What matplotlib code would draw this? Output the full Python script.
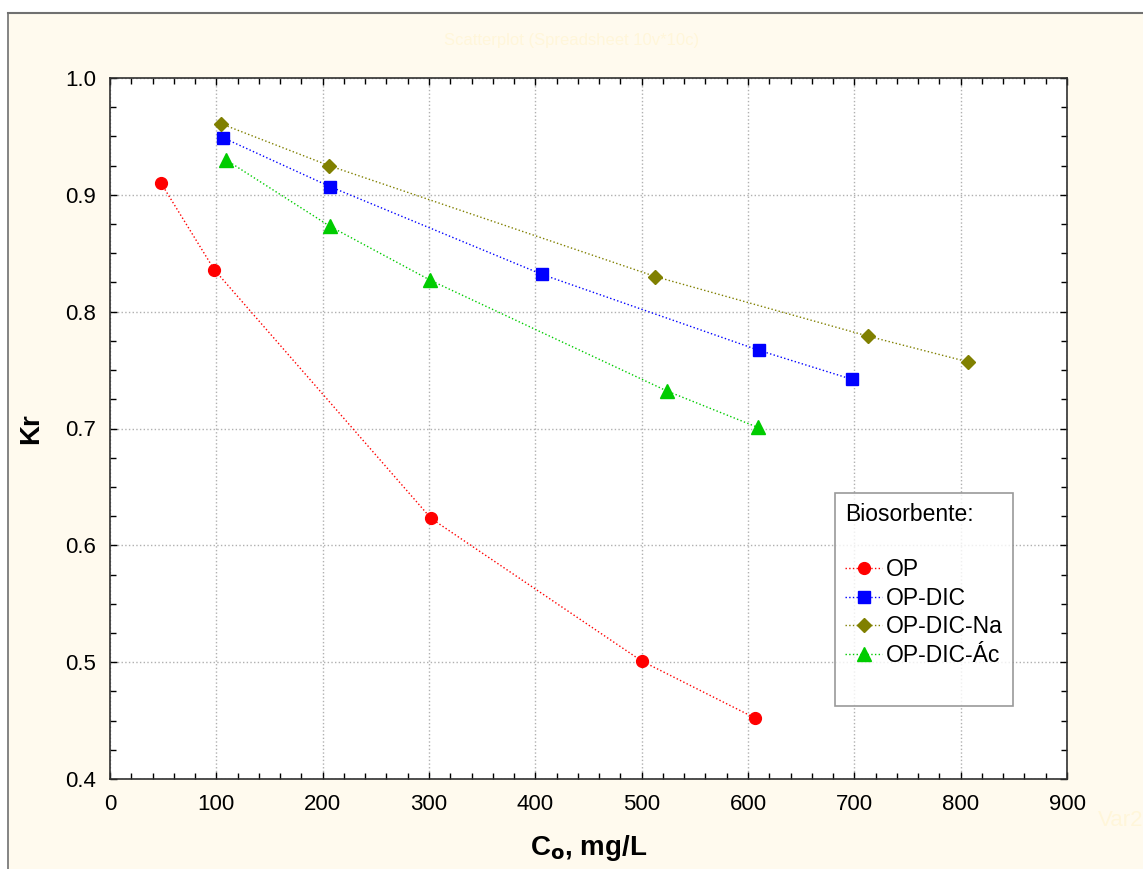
import numpy as np
import matplotlib.pyplot as plt
from matplotlib.ticker import MultipleLocator
from matplotlib.patches import Rectangle
from matplotlib.lines import Line2D

plt.rcParams['font.family'] = ['Liberation Sans', 'DejaVu Sans']

# data
op_x = [48, 98, 302, 500, 607]
op_y = [0.910, 0.836, 0.623, 0.501, 0.452]

dic_x = [106, 207, 406, 610, 698]
dic_y = [0.949, 0.907, 0.832, 0.767, 0.742]

na_x = [104, 206, 513, 713, 807]
na_y = [0.961, 0.925, 0.830, 0.779, 0.757]

ac_x = [109, 207, 301, 524, 609]
ac_y = [0.930, 0.873, 0.827, 0.732, 0.701]

labels = ["OP", "OP-DIC", "OP-DIC-Na", "OP-DIC-Ác"]

W, H = 1143, 869
fig = plt.figure(figsize=(W / 100, H / 100), dpi=100)
fig.patch.set_facecolor("white")

# cream panel with gray frame on top/left
bg = "#fffaee"
fig.patches.append(Rectangle((8 / W, 0), 1, 1 - 13 / H, transform=fig.transFigure,
                             facecolor=bg, edgecolor="none", zorder=-10))
fig.add_artist(Line2D([8 / W, 1], [1 - 13 / H, 1 - 13 / H], transform=fig.transFigure,
                      color="#707070", lw=1.5))
fig.add_artist(Line2D([8 / W, 8 / W], [0, 1 - 13 / H], transform=fig.transFigure,
                      color="#707070", lw=1.2))

# faint hidden texts in the original
fig.text(0.5, 1 - 40 / H, "Scatterplot (Spreadsheet 10v*10c)", ha="center", va="center",
         color="#fff6da", fontsize=12)
fig.text(1.0, 1 - 820 / H, "Var2", ha="right", va="center", color="#fff6da", fontsize=16)

ax = fig.add_axes([110 / W, 1 - 779 / H, 957 / W, 701 / H])
ax.set_facecolor("white")

ax.plot(op_x, op_y, ls=":", lw=1, color="#ff0000", marker="o", ms=8.5,
        mfc="#ff0000", mec="#ff0000", label=labels[0])
ax.plot(dic_x, dic_y, ls=":", lw=1, color="#0000ff", marker="s", ms=9,
        mfc="#0000ff", mec="#0000ff", label=labels[1])
ax.plot(na_x, na_y, ls=":", lw=1, color="#808000", marker="D", ms=7.5,
        mfc="#808000", mec="#808000", label=labels[2])
ax.plot(ac_x, ac_y, ls=":", lw=1, color="#00cc00", marker="^", ms=9.5,
        mfc="#00cc00", mec="#00cc00", label=labels[3])

ax.set_xlim(0, 900)
ax.set_ylim(0.4, 1.0)
ax.xaxis.set_major_locator(MultipleLocator(100))
ax.xaxis.set_minor_locator(MultipleLocator(20))
ax.yaxis.set_major_locator(MultipleLocator(0.1))
ax.yaxis.set_minor_locator(MultipleLocator(0.025))
ax.yaxis.set_major_formatter(plt.FuncFormatter(lambda v, p: f"{v:.1f}"))

ax.tick_params(which="both", direction="in", top=True, right=True, labelsize=16,
               color="black")
ax.tick_params(which="major", length=5, width=1)
ax.tick_params(which="minor", length=4, width=1)
ax.tick_params(axis="x", pad=11)
ax.tick_params(axis="y", pad=10)
for s in ax.spines.values():
    s.set_linewidth(1.2)
    s.set_color("#303030")

ax.grid(True, which="major", ls=":", color="#b0b0b0", lw=1)

ax.set_xlabel("C$_\\mathbf{o}$, mg/L", fontsize=20, fontweight="bold", labelpad=13)
ax.set_ylabel("Kr", fontsize=20, fontweight="bold", labelpad=15)

handles, labs = ax.get_legend_handles_labels()
handles.append(Line2D([], [], color="none"))
labs.append(" ")
leg = ax.legend(handles, labs, title="Biosorbente:\n", loc="upper left",
                bbox_to_anchor=(0.7576, 0.408), borderaxespad=0,
                fontsize=16.5, title_fontsize=16.5, frameon=True, fancybox=False,
                edgecolor="#808080", handlelength=1.6, handletextpad=0.15,
                labelspacing=0.24, borderpad=0.45, alignment="left")
leg.get_frame().set_linewidth(1.2)

fig.savefig("out.png", dpi=100, facecolor=fig.get_facecolor())
